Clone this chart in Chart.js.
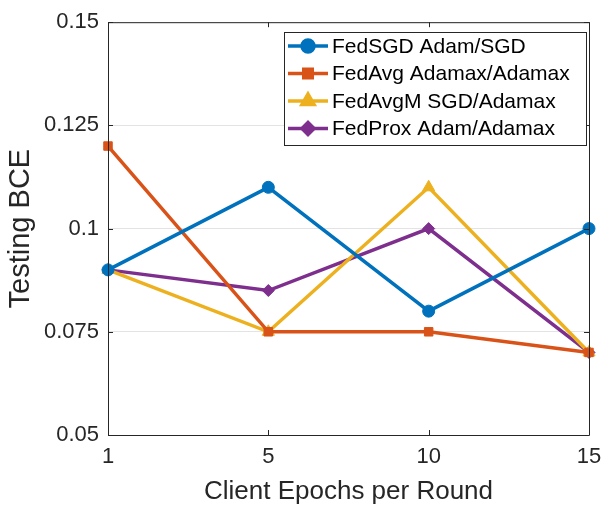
<!DOCTYPE html>
<html>
<head>
<meta charset="utf-8">
<script src="https://cdn.jsdelivr.net/npm/chart.js@4"></script>
<style>
    html, body { margin: 0; padding: 0; background: #ffffff; }
    #wrap { width: 601px; height: 509px; position: relative; }
</style>
</head>
<body>
<div id="wrap"><canvas id="bceChart"></canvas></div>
<script>
// Data
const epochs = ['1', '5', '10', '15'];
const fedSgd = [0.09, 0.11, 0.08, 0.10];
const fedAvg = [0.12, 0.075, 0.075, 0.07];
const fedAvgM = [0.09, 0.075, 0.11, 0.07];
const fedProx = [0.09, 0.085, 0.10, 0.07];
const yTicks = [0.05, 0.075, 0.1, 0.125, 0.15];

const FONT = "'Liberation Sans', Arial, sans-serif";

function series(label, data, color, marker) {
    return {
        label: label,
        data: data,
        borderColor: color,
        backgroundColor: color,
        borderWidth: 3.5,
        pointStyle: marker,
        pointRadius: marker === 'triangle' ? 7 : 6,
        pointBorderWidth: 1,
        tension: 0,
        fill: false
    };
}

// box + inward ticks + legend inside the axes, matlab style
const boxPlugin = {
    id: 'boxPlugin',
    afterDatasetsDraw(chart) {
        const { ctx, chartArea: a, scales } = chart;
        ctx.save();
        ctx.strokeStyle = '#262626';
        ctx.lineWidth = 1;
        ctx.beginPath();
        ctx.rect(a.left + 0.5, a.top + 0.5, a.right - a.left, a.bottom - a.top);
        ctx.stroke();
        // ticks
        ctx.beginPath();
        scales.x.ticks.forEach((t, i) => {
            const x = Math.round(scales.x.getPixelForTick(i)) + 0.5;
            ctx.moveTo(x, a.bottom); ctx.lineTo(x, a.bottom - 5);
            ctx.moveTo(x, a.top); ctx.lineTo(x, a.top + 5);
        });
        yTicks.forEach(v => {
            const y = Math.round(scales.y.getPixelForValue(v)) + 0.5;
            ctx.moveTo(a.left, y); ctx.lineTo(a.left + 5, y);
            ctx.moveTo(a.right, y); ctx.lineTo(a.right - 5, y);
        });
        ctx.stroke();

        // legend
        const lx = 284, ly = 32, lw = 302, lh = 113;
        ctx.fillStyle = '#ffffff';
        ctx.fillRect(lx, ly, lw, lh);
        ctx.strokeStyle = '#262626';
        ctx.strokeRect(lx + 0.5, ly + 0.5, lw, lh);
        ctx.font = '21px ' + FONT;
        ctx.textBaseline = 'middle';
        ctx.textAlign = 'left';
        chart.data.datasets.forEach((ds, i) => {
            const y = ly + 14 + i * 27.5;
            ctx.strokeStyle = ds.borderColor;
            ctx.lineWidth = ds.borderWidth;
            ctx.beginPath();
            ctx.moveTo(lx + 4, y); ctx.lineTo(lx + 44, y);
            ctx.stroke();
            ctx.fillStyle = ds.borderColor;
            Chart.helpers.drawPoint(ctx, {
                pointStyle: ds.pointStyle,
                radius: ds.pointRadius,
                borderWidth: 1
            }, lx + 24, y);
            ctx.fillStyle = '#000000';
            ctx.fillText(ds.label, lx + 48, y + 1);
        });
        ctx.restore();
    }
};

const ctx = document.getElementById('bceChart').getContext('2d');

const bceChart = new Chart(ctx, {
    type: 'line',
    data: {
        labels: epochs,
        datasets: [
            series('FedSGD Adam/SGD', fedSgd, '#0072BD', 'circle'),
            series('FedAvg Adamax/Adamax', fedAvg, '#D95319', 'rect'),
            series('FedAvgM SGD/Adamax', fedAvgM, '#EDB120', 'triangle'),
            series('FedProx Adam/Adamax', fedProx, '#7E2F8E', 'rectRot')
        ]
    },
    options: {
        responsive: true,
        maintainAspectRatio: false,
        animation: { duration: 0 },
        layout: { padding: { left: 0, right: 0, top: 19, bottom: 0 } },
        scales: {
            x: {
                type: 'category',
                offset: false,
                grid: { display: false, drawTicks: false },
                border: { display: false },
                ticks: {
                    color: '#262626',
                    padding: 9,
                    maxRotation: 0,
                    font: { family: FONT, size: 22 }
                },
                title: {
                    display: true,
                    text: 'Client Epochs per Round',
                    color: '#262626',
                    padding: { top: 0, bottom: 2 },
                    font: { family: FONT, size: 26 }
                },
                afterFit: (scale) => {
                    scale.height = 74;
                    scale.paddingLeft = 0;
                    scale.paddingRight = 12;
                }
            },
            y: {
                min: 0.05,
                max: 0.15,
                afterBuildTicks: (scale) => {
                    scale.ticks = yTicks.map(v => ({ value: v }));
                },
                grid: { color: '#e3e3e3', drawTicks: false },
                border: { display: false },
                ticks: {
                    color: '#262626',
                    padding: 9,
                    font: { family: FONT, size: 22 },
                    callback: (v) => String(+Number(v).toFixed(3))
                },
                title: {
                    display: true,
                    text: 'Testing BCE',
                    color: '#262626',
                    padding: { top: 4, bottom: 0 },
                    font: { family: FONT, size: 29 }
                },
                afterFit: (scale) => { scale.width = 108; }
            }
        },
        plugins: {
            legend: { display: false },
            tooltip: { enabled: false }
        }
    },
    plugins: [boxPlugin]
});
</script>
</body>
</html>
